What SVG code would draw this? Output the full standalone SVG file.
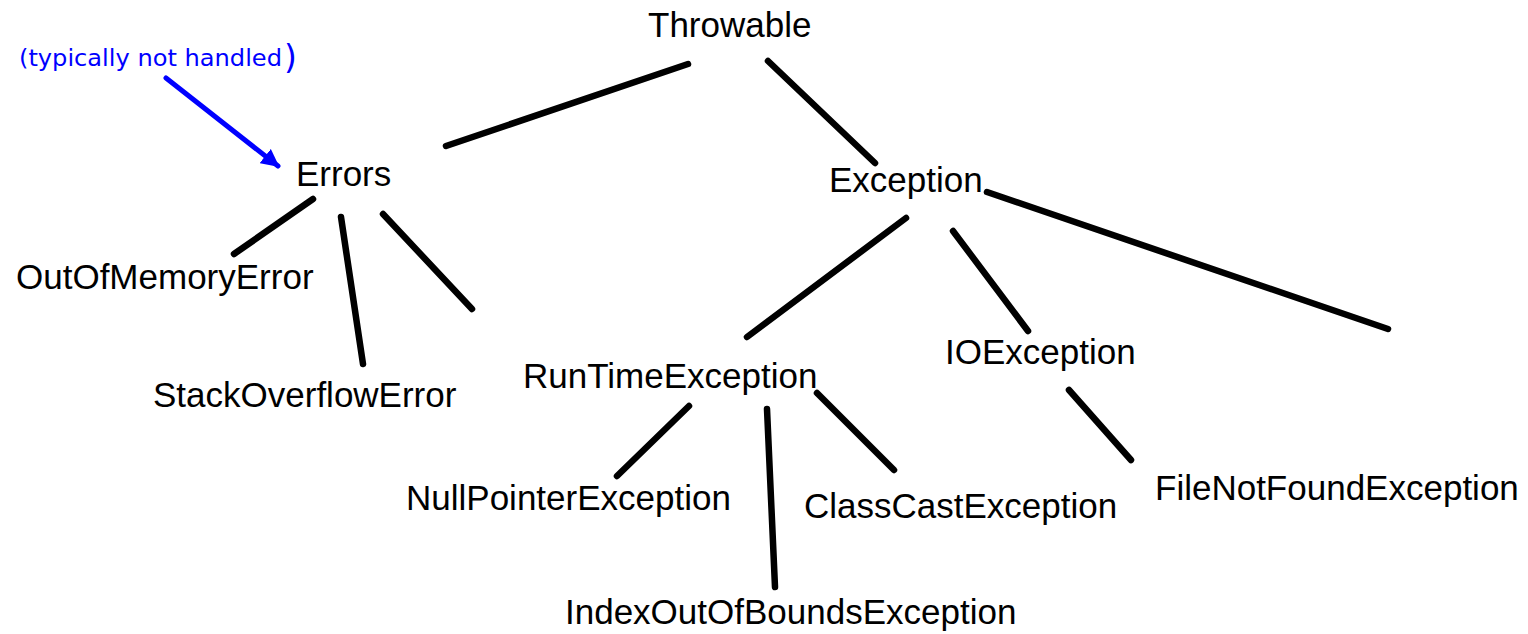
<svg xmlns="http://www.w3.org/2000/svg" width="1528" height="634" viewBox="0 0 1528 634">
<style>
.n{font-family:"Liberation Sans",Arial,sans-serif;font-size:35px;fill:#000}
.c line{stroke:#000;stroke-width:6.5;stroke-linecap:round}
.note{font-family:"Comic Sans MS","DejaVu Sans",sans-serif;fill:#0000ff}
</style>
<defs>
<marker id="ah" viewBox="0 0 10 10" refX="9" refY="5" markerWidth="3.6" markerHeight="3.6" orient="auto" markerUnits="strokeWidth">
<path d="M0,0 L10,5 L0,10 z" fill="#0000ff"/>
</marker>
</defs>
<rect width="1528" height="634" fill="#fff"/>
<g class="c" id="connectors">
<line x1="688" y1="64" x2="446" y2="146"/>
<line x1="768" y1="61" x2="875" y2="163"/>
<line x1="313" y1="199" x2="234" y2="254"/>
<line x1="341" y1="217" x2="363" y2="364"/>
<line x1="383" y1="214" x2="472" y2="309"/>
<line x1="906" y1="218" x2="747" y2="337"/>
<line x1="953" y1="231" x2="1028" y2="331"/>
<line x1="987" y1="192" x2="1388" y2="329"/>
<line x1="689" y1="406" x2="617" y2="476"/>
<line x1="767" y1="409" x2="775" y2="587"/>
<line x1="817" y1="393" x2="894" y2="470"/>
<line x1="1069" y1="390" x2="1131" y2="460"/>
</g>
<g id="note">
<text class="note" x="19" y="66" font-size="23" textLength="263" lengthAdjust="spacingAndGlyphs">(typically not handled</text>
<text class="note" x="284" y="69" font-size="33">)</text>
<line x1="166" y1="78" x2="278" y2="166" stroke="#0000ff" stroke-width="5" stroke-linecap="round" marker-end="url(#ah)"/>
</g>
<g id="throwable"><text class="n" x="648" y="37">Throwable</text></g>
<g id="errors"><text class="n" x="296" y="186">Errors</text></g>
<g id="exception"><text class="n" x="829" y="192">Exception</text></g>
<g id="outofmemory"><text class="n" x="16" y="289">OutOfMemoryError</text></g>
<g id="stackoverflow"><text class="n" x="153" y="407">StackOverflowError</text></g>
<g id="runtime"><text class="n" x="523" y="388">RunTimeException</text></g>
<g id="ioexception"><text class="n" x="945" y="364">IOException</text></g>
<g id="nullpointer"><text class="n" x="406" y="510">NullPointerException</text></g>
<g id="classcast"><text class="n" x="804" y="518">ClassCastException</text></g>
<g id="filenotfound"><text class="n" x="1155" y="500">FileNotFoundException</text></g>
<g id="indexoutofbounds"><text class="n" x="565" y="624">IndexOutOfBoundsException</text></g>
</svg>
